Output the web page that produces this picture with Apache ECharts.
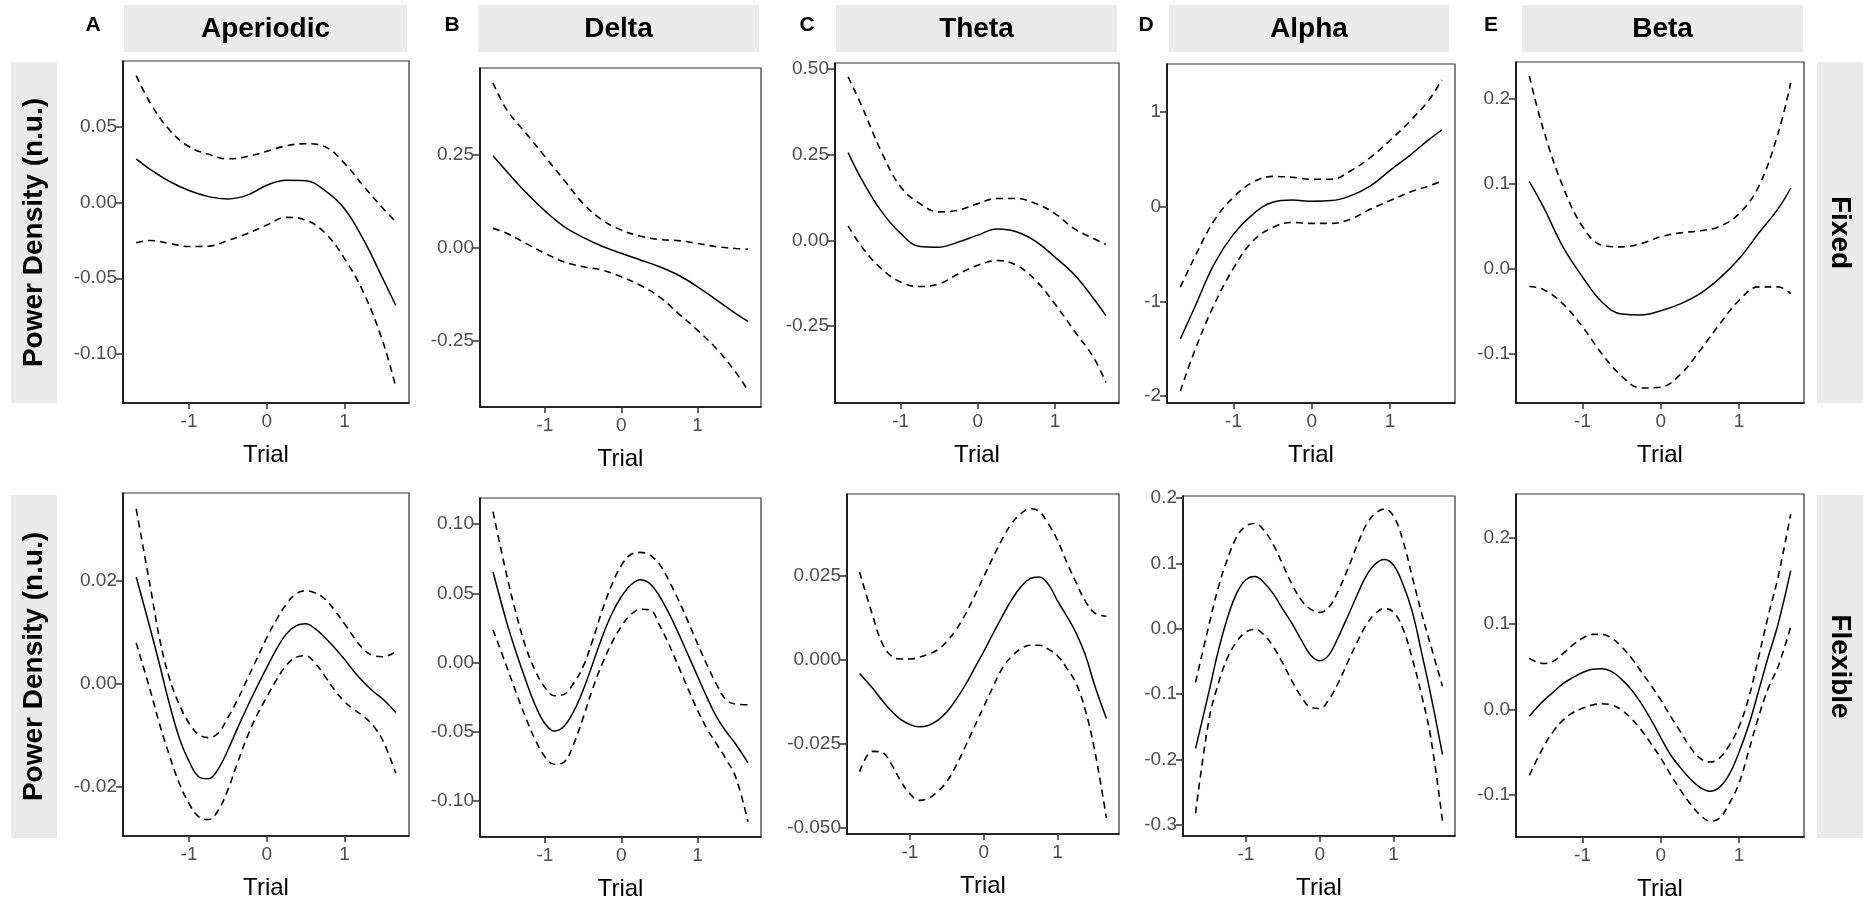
<!DOCTYPE html>
<html>
<head>
<meta charset="utf-8">
<script src="https://cdn.jsdelivr.net/npm/echarts@6/dist/echarts.min.js"></script>
<style>
  html, body { margin: 0; background: #fff; }
  #chart { width: 1863px; height: 902px; }
</style>
</head>
<body>
<div id="chart"></div>
<script>
// standardised trial (x) for each row
const trialFixed = [-1.68, -1.5, -1.25, -1.0, -0.75, -0.5, -0.25, 0, 0.25, 0.5, 0.75, 1.0, 1.25, 1.5, 1.66]
const trialFlexible = [-1.68, -1.5, -1.375, -1.25, -1.125, -1.0, -0.875, -0.75, -0.625, -0.5, -0.375, -0.25, -0.125, 0,
  0.125, 0.25, 0.375, 0.5, 0.625, 0.75, 0.875, 1.0, 1.125, 1.25, 1.375, 1.5, 1.66]

// Fixed row
const aperiodicFixedFit   = [0.029, 0.022, 0.014, 0.008, 0.004, 0.0025, 0.005, 0.0115, 0.0148, 0.0145, 0.008, -0.004, -0.025, -0.051, -0.068]
const aperiodicFixedUpper = [0.084, 0.066, 0.048, 0.037, 0.032, 0.029, 0.0305, 0.034, 0.0376, 0.039, 0.037, 0.026, 0.0106, -0.004, -0.0126]
const aperiodicFixedLower = [-0.0265, -0.025, -0.027, -0.029, -0.0288, -0.025, -0.0204, -0.0148, -0.0097, -0.0115, -0.020, -0.037, -0.060, -0.093, -0.122]

const deltaFixedFit   = [0.248, 0.206, 0.15, 0.10, 0.058, 0.029, 0.005, -0.014, -0.032, -0.050, -0.073, -0.104, -0.14, -0.176, -0.197]
const deltaFixedUpper = [0.444, 0.372, 0.309, 0.246, 0.183, 0.12, 0.0755, 0.0486, 0.032, 0.023, 0.020, 0.0126, 0.0036, -0.001, -0.003]
const deltaFixedLower = [0.053, 0.040, 0.0126, -0.014, -0.037, -0.050, -0.059, -0.077, -0.10, -0.131, -0.176, -0.221, -0.271, -0.334, -0.383]

const thetaFixedFit   = [0.256, 0.176, 0.085, 0.02, -0.018, -0.02, -0.005, 0.015, 0.033, 0.025, -0.003, -0.049, -0.10, -0.17, -0.22]
const thetaFixedUpper = [0.477, 0.39, 0.259, 0.156, 0.107, 0.083, 0.088, 0.107, 0.122, 0.122, 0.107, 0.078, 0.034, 0.005, -0.012]
const thetaFixedLower = [0.042, -0.02, -0.083, -0.122, -0.135, -0.127, -0.098, -0.073, -0.059, -0.073, -0.117, -0.186, -0.264, -0.342, -0.415]

const alphaFixedFit   = [-1.397, -1.07, -0.61, -0.29, -0.078, 0.046, 0.07, 0.057, 0.064, 0.117, 0.22, 0.383, 0.54, 0.71, 0.81]
const alphaFixedUpper = [-0.85, -0.54, -0.15, 0.1, 0.26, 0.32, 0.31, 0.29, 0.29, 0.38, 0.52, 0.70, 0.90, 1.13, 1.34]
const alphaFixedLower = [-1.95, -1.53, -1.04, -0.65, -0.36, -0.22, -0.167, -0.177, -0.177, -0.13, -0.025, 0.064, 0.152, 0.22, 0.27]

const betaFixedFit   = [0.1028, 0.073, 0.026, -0.0094, -0.039, -0.053, -0.054, -0.049, -0.041, -0.029, -0.011, 0.012, 0.042, 0.071, 0.095]
const betaFixedUpper = [0.227, 0.164, 0.097, 0.050, 0.028, 0.026, 0.030, 0.038, 0.0425, 0.045, 0.050, 0.065, 0.097, 0.16, 0.219]
const betaFixedLower = [-0.0205, -0.024, -0.041, -0.068, -0.10, -0.126, -0.140, -0.139, -0.124, -0.096, -0.065, -0.037, -0.021, -0.021, -0.029]

// Flexible row
const aperiodicFlexFit = [0.0208, 0.0108, 0.0035, -0.0040, -0.0105, -0.0150, -0.0180, -0.0184, -0.0165, -0.0128, -0.0085, -0.0044, -0.0005, 0.0032,
  0.0068, 0.0097, 0.0113, 0.0117, 0.0107, 0.0090, 0.0070, 0.0048, 0.0024, 0.0003, -0.0015, -0.0030, -0.0055]
const aperiodicFlexUpper = [0.034, 0.019, 0.0085, 0.0010, -0.0040, -0.0076, -0.0098, -0.0104, -0.0095, -0.0065, -0.0030, 0.0010, 0.0050, 0.0090,
  0.0125, 0.0155, 0.0175, 0.0181, 0.0177, 0.0165, 0.0143, 0.0117, 0.0090, 0.0067, 0.0055, 0.0053, 0.0063]
const aperiodicFlexLower = [0.0080, -0.0012, -0.0080, -0.0140, -0.0193, -0.0232, -0.0258, -0.0263, -0.0245, -0.0205, -0.0152, -0.0102, -0.0060, -0.0025,
  0.0008, 0.0036, 0.0052, 0.0055, 0.0040, 0.0015, -0.0012, -0.0034, -0.0050, -0.0063, -0.0082, -0.0112, -0.0173]

const deltaFlexFit = [0.0655, 0.0290, 0.0070, -0.0130, -0.0310, -0.0440, -0.0495, -0.0460, -0.0355, -0.0200, -0.0010, 0.0185, 0.0350, 0.0475,
  0.0560, 0.0598, 0.0570, 0.0480, 0.0355, 0.0210, 0.0055, -0.0100, -0.0255, -0.0395, -0.0500, -0.0590, -0.0725]
const deltaFlexUpper = [0.1090, 0.0630, 0.0350, 0.0110, -0.0060, -0.0180, -0.0240, -0.0230, -0.0150, -0.0030, 0.0160, 0.0375, 0.0560, 0.0700,
  0.0780, 0.0795, 0.0775, 0.0710, 0.0590, 0.0450, 0.0295, 0.0135, -0.0020, -0.0160, -0.0270, -0.0300, -0.0305]
const deltaFlexLower = [0.0237, -0.0030, -0.0220, -0.0400, -0.0560, -0.0680, -0.0735, -0.0720, -0.0590, -0.0400, -0.0190, -0.0010, 0.0140, 0.0260,
  0.0345, 0.0385, 0.0380, 0.0270, 0.0130, -0.0030, -0.0190, -0.0345, -0.0480, -0.0590, -0.0700, -0.0830, -0.1150]

const thetaFlexFit = [-0.0040, -0.0085, -0.0120, -0.0152, -0.0177, -0.0192, -0.0199, -0.0195, -0.0180, -0.0155, -0.0118, -0.0075, -0.0025, 0.0025,
  0.0078, 0.0130, 0.0178, 0.0217, 0.0242, 0.0247, 0.0225, 0.0175, 0.0130, 0.0080, 0.0015, -0.0075, -0.0174]
const thetaFlexUpper = [0.0262, 0.0130, 0.0050, 0.0012, 0.0003, 0.0003, 0.0008, 0.0017, 0.0030, 0.0055, 0.0090, 0.0135, 0.0190, 0.0248,
  0.0305, 0.0360, 0.0405, 0.0435, 0.0450, 0.0442, 0.0405, 0.0355, 0.0290, 0.0230, 0.0175, 0.0140, 0.0130]
const thetaFlexLower = [-0.0333, -0.0272, -0.0275, -0.0310, -0.0360, -0.0398, -0.0418, -0.0412, -0.0392, -0.0362, -0.0315, -0.0258, -0.0198, -0.0139,
  -0.0080, -0.0025, 0.0010, 0.0033, 0.0044, 0.0044, 0.0032, 0.0012, -0.0025, -0.0070, -0.0150, -0.0268, -0.0471]

const alphaFlexFit = [-0.183, -0.097, -0.035, 0.016, 0.054, 0.075, 0.080, 0.070, 0.053, 0.030, 0.008, -0.017, -0.040, -0.049,
  -0.040, -0.013, 0.018, 0.050, 0.080, 0.099, 0.106, 0.097, 0.068, 0.027, -0.035, -0.100, -0.192]
const alphaFlexUpper = [-0.082, 0.005, 0.062, 0.106, 0.140, 0.157, 0.161, 0.150, 0.128, 0.098, 0.068, 0.044, 0.030, 0.025,
  0.033, 0.058, 0.090, 0.126, 0.158, 0.176, 0.183, 0.172, 0.135, 0.080, 0.025, -0.025, -0.088]
const alphaFlexLower = [-0.282, -0.140, -0.085, -0.045, -0.020, -0.005, -0.001, -0.010, -0.028, -0.053, -0.080, -0.104, -0.120, -0.122,
  -0.108, -0.083, -0.052, -0.022, 0.005, 0.023, 0.031, 0.025, 0.000, -0.045, -0.100, -0.165, -0.294]

const betaFlexFit = [-0.0080, 0.0100, 0.0200, 0.0300, 0.0370, 0.0430, 0.0468, 0.0475, 0.0440, 0.0350, 0.0230, 0.0070, -0.0120, -0.0330,
  -0.0530, -0.0680, -0.0810, -0.0910, -0.0955, -0.0910, -0.0760, -0.0500, -0.0180, 0.0215, 0.0620, 0.1000, 0.1620]
const betaFlexUpper = [0.0595, 0.0535, 0.0560, 0.0650, 0.0750, 0.0830, 0.0875, 0.0875, 0.0830, 0.0730, 0.0600, 0.0440, 0.0280, 0.0110,
  -0.0080, -0.0260, -0.0440, -0.0570, -0.0615, -0.0570, -0.0420, -0.0200, 0.0140, 0.0610, 0.1100, 0.1550, 0.2280]
const betaFlexLower = [-0.0770, -0.0440, -0.0260, -0.0125, -0.0040, 0.0012, 0.0050, 0.0065, 0.0050, -0.0008, -0.0110, -0.0240, -0.0400, -0.0570,
  -0.0760, -0.0940, -0.1100, -0.1230, -0.1305, -0.1270, -0.1100, -0.0860, -0.0480, -0.0086, 0.0250, 0.0500, 0.0965]

const bands = ['Aperiodic', 'Delta', 'Theta', 'Alpha', 'Beta']
const letters = ['A', 'B', 'C', 'D', 'E']
const conditions = ['Fixed', 'Flexible']
const xTicks = [-1, 0, 1]

// y tick labels per panel
const yTicksFixed = [[-0.10, -0.05, 0.00, 0.05], [-0.25, 0, 0.25], [-0.25, 0, 0.25, 0.50], [-2, -1, 0, 1], [-0.1, 0, 0.1, 0.2]]
const yTicksFlex = [[-0.02, 0, 0.02], [-0.10, -0.05, 0, 0.05, 0.10], [-0.050, -0.025, 0, 0.025], [-0.3, -0.2, -0.1, 0, 0.1, 0.2], [-0.1, 0, 0.1, 0.2]]

const rows = [
  {
    trial: trialFixed,
    panels: [
      [aperiodicFixedFit, aperiodicFixedUpper, aperiodicFixedLower],
      [deltaFixedFit, deltaFixedUpper, deltaFixedLower],
      [thetaFixedFit, thetaFixedUpper, thetaFixedLower],
      [alphaFixedFit, alphaFixedUpper, alphaFixedLower],
      [betaFixedFit, betaFixedUpper, betaFixedLower]
    ]
  },
  {
    trial: trialFlexible,
    panels: [
      [aperiodicFlexFit, aperiodicFlexUpper, aperiodicFlexLower],
      [deltaFlexFit, deltaFlexUpper, deltaFlexLower],
      [thetaFlexFit, thetaFlexUpper, thetaFlexLower],
      [alphaFlexFit, alphaFlexUpper, alphaFlexLower],
      [betaFlexFit, betaFlexUpper, betaFlexLower]
    ]
  }
]

// layout
const boxes = [
  [[123, 61, 286, 342], [480, 68, 281, 339], [835, 63, 284, 340], [1167, 64, 288, 339], [1516, 62, 288, 341]],
  [[123, 493, 286, 343], [480, 498, 281, 339], [847, 494, 272, 340], [1183, 496, 272, 340], [1516, 494, 288, 343]]
]
const yRanges = [
  [[-0.1325, 0.0937], [-0.427, 0.484], [-0.475, 0.5175], [-2.074, 1.507], [-0.1576, 0.2435]],
  [[-0.0295, 0.0371], [-0.126, 0.1188], [-0.0518, 0.0494], [-0.317, 0.203], [-0.149, 0.2514]]
]
const yDecimals = [[2, 2, 2, 0, 1], [2, 2, 3, 1, 1]]
const strips = [[124, 283], [478, 281], [836, 281], [1169, 280], [1522, 281]]
const letterX = [93, 452, 807, 1146, 1491]

const FONT = '"Liberation Sans", Arial, sans-serif'

const grid = [], xAxis = [], yAxis = [], series = []
rows.forEach((row, r) => {
  row.panels.forEach((panel, c) => {
    const i = grid.length
    const b = boxes[r][c]
    grid.push({ left: b[0], top: b[1], width: b[2], height: b[3], show: true, borderColor: '#333', borderWidth: 1.2 })
    xAxis.push({
      gridIndex: i, type: 'value', min: -1.85, max: 1.83,
      name: 'Trial', nameLocation: 'middle', nameGap: 40,
      nameTextStyle: { color: '#000', fontSize: 24, fontFamily: FONT },
      axisLine: { show: true, onZero: false, lineStyle: { color: '#000', width: 1.5 } },
      axisTick: { show: true, length: 6, customValues: xTicks, lineStyle: { color: '#333', width: 1.5 } },
      axisLabel: { customValues: xTicks, color: '#4d4d4d', fontSize: 19, fontFamily: FONT, margin: 9 },
      splitLine: { show: false }
    })
    const ticks = r === 0 ? yTicksFixed[c] : yTicksFlex[c]
    const dec = yDecimals[r][c]
    yAxis.push({
      gridIndex: i, type: 'value', min: yRanges[r][c][0], max: yRanges[r][c][1],
      axisLine: { show: true, onZero: false, lineStyle: { color: '#000', width: 1.5 } },
      axisTick: { show: true, length: 7, customValues: ticks, lineStyle: { color: '#333', width: 1.5 } },
      axisLabel: { customValues: ticks, color: '#4d4d4d', fontSize: 19, fontFamily: FONT, margin: 6, formatter: v => Number(v).toFixed(dec) },
      splitLine: { show: false }
    })
    const [fit, upper, lower] = panel
    const mk = (vals, dashed) => ({
      type: 'line', xAxisIndex: i, yAxisIndex: i, smooth: 0.4, symbol: 'none', silent: true,
      data: row.trial.map((x, k) => [x, vals[k]]),
      lineStyle: { color: '#000', width: dashed ? 1.6 : 1.5, type: dashed ? [7, 5] : 'solid' }
    })
    series.push(mk(upper, true), mk(lower, true), mk(fit, false))
  })
})

const graphic = []
strips.forEach((s, c) => {
  graphic.push({ type: 'rect', shape: { x: s[0], y: 5, width: s[1], height: 47 }, style: { fill: '#ebebeb' } })
  graphic.push({ type: 'text', x: s[0] + s[1] / 2, y: 29, style: { text: bands[c], font: 'bold 28px ' + FONT, fill: '#000', textAlign: 'center', textVerticalAlign: 'middle' } })
  graphic.push({ type: 'text', x: letterX[c], y: 25, style: { text: letters[c], font: 'bold 21px ' + FONT, fill: '#000', textAlign: 'center', textVerticalAlign: 'middle' } })
})
const rowStrips = [[62, 341], [495, 343]]
rowStrips.forEach((s, r) => {
  graphic.push({ type: 'rect', shape: { x: 11, y: s[0], width: 46, height: s[1] }, style: { fill: '#ebebeb' } })
  graphic.push({ type: 'text', x: 34, y: s[0] + s[1] / 2, rotation: Math.PI / 2, style: { text: 'Power Density (n.u.)', font: 'bold 28px ' + FONT, fill: '#000', textAlign: 'center', textVerticalAlign: 'middle' } })
  graphic.push({ type: 'rect', shape: { x: 1817, y: s[0], width: 46, height: s[1] }, style: { fill: '#ebebeb' } })
  graphic.push({ type: 'text', x: 1840, y: s[0] + s[1] / 2, rotation: -Math.PI / 2, style: { text: conditions[r], font: 'bold 28px ' + FONT, fill: '#000', textAlign: 'center', textVerticalAlign: 'middle' } })
})

const chart = echarts.init(document.getElementById('chart'))
chart.setOption({ animation: false, backgroundColor: '#fff', grid, xAxis, yAxis, series, graphic })
</script>
</body>
</html>
